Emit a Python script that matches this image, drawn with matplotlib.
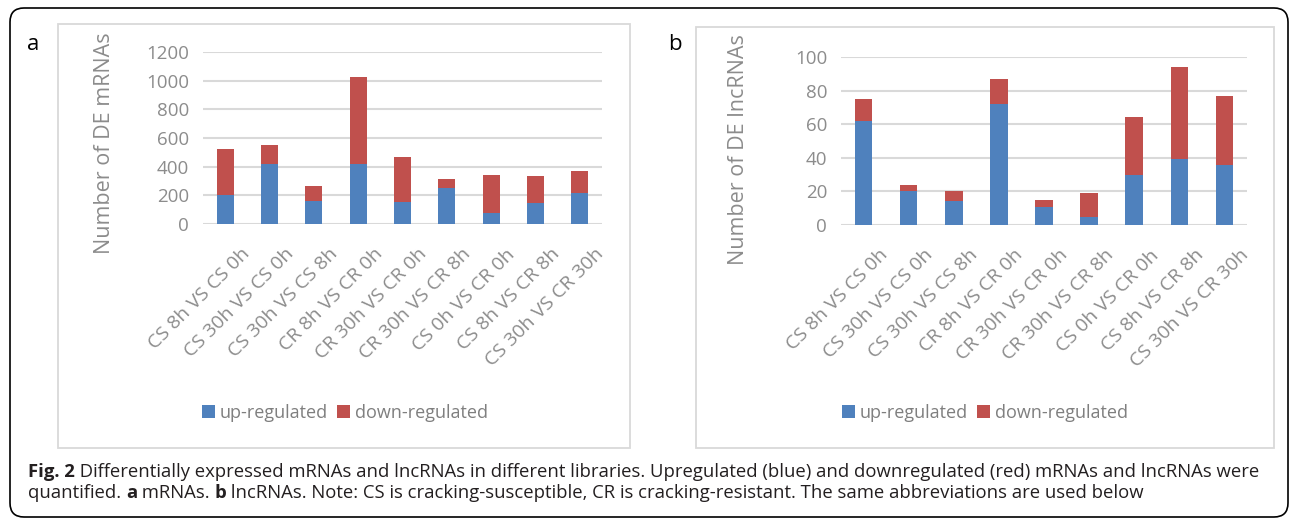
import matplotlib
matplotlib.use('Agg')
import matplotlib.pyplot as plt
import numpy as np
from matplotlib.patches import FancyBboxPatch, Rectangle
from matplotlib.transforms import ScaledTranslation

plt.rcParams['font.family'] = ['Open Sans', 'DejaVu Sans']

# data
comparisons = ['CS 8h VS CS 0h', 'CS 30h VS CS 0h', 'CS 30h VS CS 8h', 'CR 8h VS CR 0h',
               'CR 30h VS CR 0h', 'CR 30h VS CR 8h', 'CS 0h VS CR 0h', 'CS 8h VS CR 8h',
               'CS 30h VS CR 30h']
mrna_up = [200, 420, 160, 420, 155, 250, 75, 145, 215]
mrna_down = [325, 130, 105, 605, 310, 65, 270, 190, 155]
lnc_up = [62, 20, 14, 72, 11, 5, 30, 39, 36]
lnc_down = [13, 4, 6, 15, 4, 14, 34, 55, 41]
series_labels = ['up-regulated', 'down-regulated']

BLUE = '#4F81BD'
RED = '#C0504D'
GRAY = '#8C8C8C'
GRID = '#D9D9D9'

W, H = 1290, 519
fig = plt.figure(figsize=(W / 100, H / 100), dpi=100)

# background layer in pixel coords (y down)
bg = fig.add_axes([0, 0, 1, 1])
bg.set_xlim(0, W)
bg.set_ylim(H, 0)
bg.axis('off')

bg.add_patch(FancyBboxPatch((10, 8), 1288 - 10, 517 - 8,
                            boxstyle='round,pad=0,rounding_size=14',
                            fill=False, ec='black', lw=1.2))
bg.add_patch(Rectangle((58, 24), 630 - 58, 448 - 24, fill=False, ec=GRID, lw=1.3))
bg.add_patch(Rectangle((696, 27), 1274 - 696, 448 - 27, fill=False, ec=GRID, lw=1.3))
bg.text(33, 45, 'a', fontsize=16, ha='center', va='center')
bg.text(675, 45, 'b', fontsize=16, ha='center', va='center')


def px_axes(x0, y0, x1, y1):
    return fig.add_axes([x0 / W, 1 - y1 / H, (x1 - x0) / W, (y1 - y0) / H])


def draw_panel(ax, up, down, ymax, step, ylabel, ylab_xy, leg_xy):
    x = np.arange(len(comparisons))
    b1 = ax.bar(x, up, width=0.39, color=BLUE, zorder=3)
    b2 = ax.bar(x, down, bottom=up, width=0.39, color=RED, zorder=3)
    ax.set_xlim(-0.5, len(x) - 0.5)
    ax.set_ylim(0, ymax)
    ax.set_yticks(np.arange(0, ymax + 1, step))
    ax.yaxis.grid(True, color=GRID, lw=1.5)
    ax.set_axisbelow(True)
    for s in ax.spines.values():
        s.set_visible(False)
    ax.tick_params(axis='y', length=0, labelsize=13.5, labelcolor=GRAY, pad=10)
    ax.tick_params(axis='x', length=0, labelsize=14, labelcolor=GRAY, pad=0)
    ax.set_xticks(x)
    ax.set_xticklabels(comparisons, rotation=45, ha='right', va='top',
                       rotation_mode='anchor')
    off = ScaledTranslation(15 / 100, -21 / 100, fig.dpi_scale_trans)
    for lab in ax.get_xticklabels():
        lab.set_transform(lab.get_transform() + off)
    bg.text(ylab_xy[0], ylab_xy[1], ylabel, rotation=90, fontsize=15.5,
            color=GRAY, ha='center', va='center')
    ax.legend([b1, b2], series_labels, loc='center', bbox_to_anchor=leg_xy,
              bbox_transform=bg.transData, ncol=2, frameon=False, fontsize=13,
              handlelength=0.7, handleheight=0.7, handletextpad=0.3,
              columnspacing=0.5, labelcolor='#7F7F7F')


ax1 = px_axes(203, 52, 602, 224)
draw_panel(ax1, mrna_up, mrna_down, 1200, 200, 'Number of DE mRNAs', (104, 143), (345, 413))

ax2 = px_axes(841, 57, 1247, 225)
draw_panel(ax2, lnc_up, lnc_down, 100, 20, 'Number of DE lncRNAs', (738, 150), (985, 413))

# caption, mixed bold / regular runs
line1 = [('Fig. 2', 'bold'),
         (' Differentially expressed mRNAs and lncRNAs in different libraries. Upregulated (blue) '
          'and downregulated (red) mRNAs and lncRNAs were', 'normal')]
line2 = [('quantified. ', 'normal'), ('a', 'bold'), (' mRNAs. ', 'normal'), ('b', 'bold'),
         (' lncRNAs. Note: CS is cracking-susceptible, CR is cracking-resistant. '
          'The same abbreviations are used below', 'normal')]

renderer = fig.canvas.get_renderer()


def put_runs(runs, x0, y, size):
    x = x0
    for txt, weight in runs:
        t = bg.text(x, y, txt, fontsize=size, fontweight=weight, color='#231F20',
                    ha='left', va='center')
        x += t.get_window_extent(renderer=renderer).width
    return x - x0


# fit caption size to the width of the first line
probe = []
for txt, weight in line1:
    probe.append(bg.text(0, -100, txt, fontsize=10, fontweight=weight))
w10 = sum(p.get_window_extent(renderer=renderer).width for p in probe)
for p in probe:
    p.remove()
cap_size = 10 * (1255 - 28) / w10

put_runs(line1, 28, 472, cap_size)
put_runs(line2, 28, 493, cap_size)

fig.savefig('out.png', dpi=100)
